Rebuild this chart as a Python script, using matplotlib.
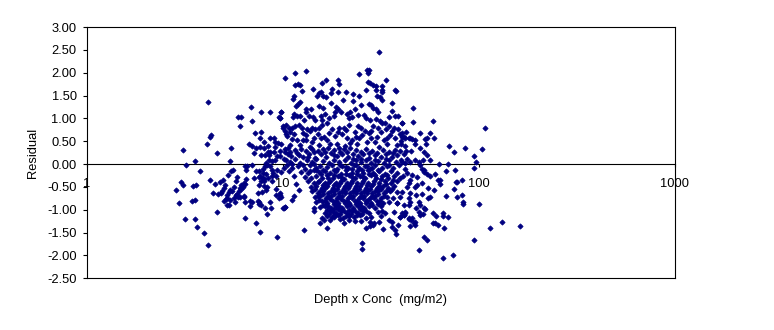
import numpy as np
from matplotlib import pyplot as plt

plt.rcParams['font.family'] = ['Liberation Sans', 'DejaVu Sans']

# points as (log10 of depth x conc, residual)
left_points = [
    (.492, .31), (.508, -.01), (.554, .07), (.579, -.15), (.482, -.39), (.492, -.45), (.457, -.56),
    (.543, -.48), (.559, -.45), (.472, -.85), (.538, -.80), (.554, -.78), (.503, -1.20), (.554, -1.20),
    (.564, -1.37), (.600, -1.51), (.620, -1.77), (.620, 1.35), (.635, .64), (.630, .60), (.615, .45),
    (.666, .25), (.738, .36), (.733, .07), (.630, -.34), (.656, -.43), (.681, -.39), (.697, -.34),
    (.646, -.63), (.671, -.65), (.687, -.63), (.692, -.60), (.707, -.45), (.702, -.52), (.666, -1.05),
    (.722, -.23), (.738, -.16), (.748, -.14), (.767, -.28), (.763, -.36), (.717, -.67), (.717, -.74),
    (.733, -.56), (.743, -.60), (.727, -.61), (.702, -.80), (.712, -.76), (.717, -.89), (.727, -.89),
    (.733, -.78), (.750, -.75), (.763, -.67), (.753, -.50), (.758, -.84), (.773, -.71), (.784, -.72),
    (.801, -.72), (.804, -.69), (.780, -.53), (.790, -.45), (.801, -.42), (.814, -.33), (.775, -.60),
    (.767, -.65), (.789, -.55), (.796, -.50), (.809, -.43), (.809, -.83), (.835, -.80), (.845, -.83),
    (.835, -.91), (.809, -1.18), (.865, -1.29), (.886, -1.48), (.973, -1.59),
]
mid_left_points = [
    (.876, -.80), (.881, -.87), (.891, -.89), (.877, -.84), (.911, -.96), (.942, -.96), (.937, -.83),
    (.922, -1.09), (1.003, -.97), (1.014, -.94), (.983, -.75), (.993, -.72), (.988, -.64), (.968, -.67),
    (.968, -.55), (.876, -.63), (.896, -.61), (.917, -.56), (.881, -.45), (.906, -.49), (.920, -.51),
    (.855, -.31), (.877, -.29), (.886, -.26), (.899, -.31), (.906, -.38), (.865, -.16), (.877, -.15),
    (.899, -.11), (.908, -.05), (.920, -.01), (.937, -.05), (.809, -.05), (.818, -.04), (.814, -.12),
    (.845, -.01), (.945, -.12), (.945, -.27), (.945, -.38), (.971, -.12), (.968, -.26), (1.005, -.09),
    (.830, .45), (.845, .40), (.865, .36), (.886, .38), (.906, .36), (.927, .40), (.855, .25), (.891, .20),
    (.911, .20), (.927, .27), (.932, .20), (.957, .27), (.860, .67), (.891, .71), (.886, .58), (.906, .49),
    (.937, .58), (.957, .56), (.962, .49), (.978, .47), (.962, .38), (.993, .44), (.988, .29), (1.014, .27),
    (.988, .18), (1.009, .12), (.913, .03), (.930, .08), (.945, .06), (.971, .17), (.962, .10), (.937, .27),
    (.900, -.20), (.915, -.22), (.925, -.30), (.905, -.33), (.890, -.36), (.950, -.20), (.990, -.18),
    (.840, 1.26), (.937, 1.15), (.993, 1.15), (.891, 1.13), (.773, 1.04), (.789, 1.04), (.983, 1.04),
    (.988, 1.01), (.845, .95), (.784, .84), (1.000, .84), (1.004, .78), (1.010, .72), (1.015, .66),
]
top_points = [
    (1.494, 2.46), (1.431, 2.06), (1.441, 2.06), (1.434, 1.995), (1.392, 1.97), (1.530, 1.84), (1.014, 1.89),
    (1.065, 1.995), (1.121, 2.04), (1.223, 1.84), (1.203, 1.78), (1.284, 1.84), (1.289, 1.75), (1.065, 1.73),
    (1.077, 1.75), (1.087, 1.73), (1.100, 1.60), (1.157, 1.64), (1.254, 1.64), (1.249, 1.56), (1.184, 1.56),
    (1.198, 1.57), (1.177, 1.49), (1.206, 1.48), (1.223, 1.47), (1.284, 1.58), (1.325, 1.58), (1.361, 1.53),
    (1.392, 1.49), (1.428, 1.62), (1.434, 1.80), (1.448, 1.77), (1.462, 1.73), (1.479, 1.70), (1.474, 1.62),
    (1.509, 1.70), (1.509, 1.62), (1.509, 1.57), (1.571, 1.62), (1.581, 1.60), (1.482, 1.49), (1.496, 1.46),
    (1.509, 1.40), (1.560, 1.34), (1.060, 1.48), (1.053, 1.43), (1.087, 1.35), (1.077, 1.32), (1.070, 1.27),
    (1.249, 1.34), (1.310, 1.40), (1.361, 1.38), (1.402, 1.29), (1.371, 1.21), (1.187, 1.27), (1.208, 1.23),
    (1.121, 1.21), (1.121, 1.15), (1.146, 1.21), (1.274, 1.24), (1.284, 1.20), (1.300, 1.14), (1.439, 1.31),
    (1.451, 1.29), (1.462, 1.22), (1.474, 1.20), (1.489, 1.15), (1.560, 1.17), (1.571, 1.05), (1.591, 1.05),
    (1.545, 1.03), (1.611, .90), (.993, 1.15), (.988, 1.01), (1.056, 1.10), (1.053, 1.04),
    (1.073, 1.05), (1.090, 1.05), (1.111, .96), (1.133, 1.05), (1.153, 1.02), (1.167, .96), (1.198, 1.05),
    (1.201, .96), (1.218, 1.10), (1.235, 1.00), (1.261, 1.05), (1.266, 1.13), (1.329, 1.10), (1.346, 1.15),
    (1.337, 1.00), (1.354, 1.04), (1.383, 1.07), (1.414, 1.07), (1.428, 1.00), (1.445, .96), (1.474, .98),
    (1.496, .95), (1.520, .89),
    (1.019, .85), (1.031, .78), (1.048, .80), (1.065, .83), (1.082, .85), (1.099, .80), (1.124, .76),
    (1.150, .80), (1.167, .76), (1.184, .80), (1.201, .85), (1.226, .89), (1.252, .76), (1.286, .80),
    (1.312, .80), (1.337, .85), (1.383, .83), (1.400, .80), (1.451, .73), (1.485, .80), (1.508, .89),
    (1.542, .83), (1.567, .78), (1.588, .76),
    (1.022, .61), (1.048, .55), (1.073, .52), (1.121, .64), (1.121, .52), (1.158, .56), (1.209, .60),
    (1.235, .67), (1.226, .52), (1.244, .45), (1.303, .66), (1.329, .56), (1.354, .52), (1.405, .64),
    (1.439, .67), (1.482, .60), (1.516, .52), (1.550, .64), (1.576, .56), (1.610, .60), (1.644, .56),
    (1.039, .42), (1.090, .42), (1.141, .38), (1.184, .42), (1.278, .45), (1.320, .39), (1.380, .45),
    (1.431, .49), (1.491, .38), (1.533, .45), (1.584, .42), (1.627, .39),
    (1.036, .70), (1.058, .66), (1.105, .69), (1.140, .72), (1.178, .66), (1.195, .58), (1.265, .62),
    (1.285, .70), (1.322, .74), (1.368, .70), (1.392, .58), (1.418, .72), (1.462, .84), (1.502, .70),
    (1.528, .76), (1.560, .72), (1.598, .66), (1.630, .70), (1.104, .52), (1.148, .48), (1.342, .46),
    (1.372, .60), (1.452, .58), (1.472, .48), (1.534, .58), (1.604, .50),
]
core_upper_points = [
    (1.010, .33), (1.028, .36), (1.062, .30), (1.095, .33), (1.118, .29), (1.152, .34), (1.178, .28),
    (1.205, .32), (1.232, .35), (1.262, .30), (1.291, .27), (1.315, .33), (1.345, .36), (1.372, .30),
    (1.398, .26), (1.425, .33), (1.458, .29), (1.482, .25), (1.513, .31), (1.545, .27), (1.571, .31),
    (1.598, .28), (1.025, .22), (1.045, .18), (1.075, .24), (1.102, .16), (1.135, .22), (1.165, .14),
    (1.195, .21), (1.222, .15), (1.248, .24), (1.275, .17), (1.302, .22), (1.332, .15), (1.360, .23),
    (1.385, .17), (1.412, .21), (1.440, .13), (1.470, .19), (1.500, .15), (1.530, .22), (1.558, .16),
    (1.585, .20), (1.018, .10), (1.040, .05), (1.065, .12), (1.090, .03), (1.122, .09), (1.148, .04),
    (1.172, .11), (1.208, .06), (1.238, .02), (1.262, .10), (1.288, .05), (1.318, .09), (1.348, .03),
    (1.372, .08), (1.402, .04), (1.428, .10), (1.452, .03), (1.488, .07), (1.518, .02), (1.545, .09),
    (1.578, .04), (1.605, .08), (1.625, .02),
]
core_zero_points = [
    (1.022, -.02), (1.048, -.08), (1.078, -.04), (1.115, -.10), (1.140, -.03), (1.168, -.09), (1.192, -.05),
    (1.225, -.07), (1.250, -.02), (1.278, -.10), (1.305, -.04), (1.335, -.08), (1.362, -.03), (1.390, -.09),
    (1.418, -.05), (1.445, -.10), (1.472, -.02), (1.505, -.08), (1.532, -.04), (1.565, -.09), (1.592, -.03),
    (1.035, -.15), (1.092, -.17), (1.128, -.20), (1.158, -.14), (1.185, -.18), (1.215, -.15), (1.242, -.20),
    (1.270, -.16), (1.298, -.21), (1.325, -.14), (1.352, -.19), (1.380, -.15), (1.408, -.20), (1.435, -.14),
    (1.462, -.19), (1.492, -.16), (1.522, -.21), (1.552, -.15), (1.582, -.19), (1.060, -.26), (1.145, -.30),
    (1.172, -.26), (1.200, -.31), (1.228, -.25), (1.255, -.30), (1.284, -.26), (1.312, -.32), (1.340, -.25),
    (1.368, -.30), (1.395, -.26), (1.422, -.31), (1.450, -.25), (1.478, -.30), (1.508, -.26), (1.540, -.31),
    (1.570, -.27), (1.600, -.31), (1.130, -.38), (1.158, -.41), (1.186, -.36), (1.214, -.42), (1.242, -.37),
    (1.270, -.41), (1.298, -.36), (1.326, -.42), (1.354, -.37), (1.382, -.41), (1.410, -.36), (1.438, -.42),
    (1.466, -.37), (1.494, -.41), (1.522, -.36), (1.552, -.42), (1.585, -.38),
]
core_lower_points = [
    (1.070, -.44), (1.085, -.57), (1.056, -.70), (1.049, -.79), (.988, -.68), (1.008, -.97), (1.014, -.94),
    (1.145, -.50), (1.172, -.47), (1.200, -.52), (1.228, -.48), (1.256, -.53), (1.284, -.47), (1.312, -.52),
    (1.340, -.48), (1.368, -.53), (1.396, -.47), (1.424, -.52), (1.452, -.48), (1.480, -.53), (1.510, -.47),
    (1.540, -.52), (1.570, -.48), (1.150, -.60), (1.178, -.63), (1.206, -.58), (1.234, -.64), (1.262, -.59),
    (1.290, -.63), (1.318, -.58), (1.346, -.64), (1.374, -.59), (1.402, -.63), (1.430, -.58), (1.458, -.64),
    (1.486, -.59), (1.516, -.63), (1.546, -.60), (1.585, -.62), (1.165, -.72), (1.192, -.69), (1.220, -.74),
    (1.248, -.70), (1.276, -.75), (1.304, -.69), (1.332, -.74), (1.360, -.70), (1.388, -.75), (1.416, -.69),
    (1.444, -.74), (1.472, -.70), (1.502, -.75), (1.532, -.71), (1.565, -.74), (1.600, -.72), (1.172, -.84),
    (1.200, -.80), (1.228, -.85), (1.256, -.81), (1.284, -.86), (1.312, -.80), (1.340, -.85), (1.368, -.81),
    (1.396, -.86), (1.424, -.80), (1.452, -.85), (1.480, -.81), (1.512, -.86), (1.545, -.82), (1.584, -.86),
    (1.190, -.95), (1.218, -.91), (1.246, -.96), (1.274, -.92), (1.302, -.97), (1.330, -.91), (1.358, -.96),
    (1.386, -.92), (1.414, -.97), (1.442, -.91), (1.470, -.96), (1.500, -.92), (1.158, -.97), (1.158, -1.03),
    (1.215, -1.06), (1.243, -1.02), (1.271, -1.07), (1.299, -1.03), (1.327, -1.08), (1.355, -1.02),
    (1.383, -1.07), (1.411, -1.03), (1.439, -1.08), (1.488, -1.05), (1.508, -1.02), (1.525, -1.07),
    (1.225, -1.13), (1.253, -1.16), (1.281, -1.12), (1.309, -1.17), (1.337, -1.13), (1.365, -1.16),
    (1.393, -1.12), (1.452, -1.15), (1.500, -1.13),
]
core_dense_points = [
    (1.038, .27), (1.082, .19), (1.128, .15), (1.162, .26), (1.218, .26), (1.262, .19), (1.288, .35),
    (1.328, .26), (1.358, .12), (1.398, .12), (1.442, .24), (1.472, .09), (1.528, .12), (1.562, .24),
    (1.048, .00), (1.104, -.02), (1.162, .01), (1.208, -.12), (1.264, -.14), (1.292, -.03), (1.322, -.06),
    (1.352, -.11), (1.376, -.02), (1.405, -.12), (1.432, -.04), (1.458, -.09), (1.488, -.13), (1.545, -.02),
    (1.112, -.28), (1.142, -.16), (1.172, -.14), (1.198, -.22), (1.232, -.31), (1.262, -.24), (1.296, -.29),
    (1.324, -.21), (1.354, -.28), (1.382, -.22), (1.412, -.29), (1.442, -.22), (1.472, -.25), (1.502, -.33),
    (1.532, -.25), (1.562, -.34), (1.178, -.40), (1.204, -.45), (1.234, -.41), (1.262, -.46), (1.292, -.41),
    (1.318, -.47), (1.348, -.42), (1.376, -.47), (1.404, -.41), (1.432, -.46), (1.462, -.44), (1.490, -.47),
    (1.528, -.44), (1.164, -.55), (1.192, -.58), (1.218, -.53), (1.246, -.59), (1.276, -.54), (1.304, -.58),
    (1.332, -.53), (1.360, -.59), (1.388, -.54), (1.416, -.58), (1.444, -.54), (1.472, -.59), (1.500, -.54),
    (1.530, -.58), (1.560, -.55), (1.178, -.69), (1.206, -.66), (1.234, -.70), (1.262, -.65), (1.290, -.70),
    (1.318, -.64), (1.346, -.69), (1.374, -.64), (1.402, -.70), (1.430, -.64), (1.458, -.69), (1.488, -.65),
    (1.518, -.70), (1.186, -.78), (1.214, -.80), (1.242, -.76), (1.270, -.81), (1.298, -.76), (1.326, -.80),
    (1.354, -.75), (1.382, -.80), (1.410, -.75), (1.438, -.79), (1.466, -.75), (1.496, -.80), (1.204, -.89),
    (1.232, -.92), (1.260, -.87), (1.288, -.91), (1.316, -.86), (1.344, -.90), (1.372, -.87), (1.400, -.91),
    (1.428, -.86), (1.456, -.90), (1.486, -.88), (1.228, -1.00), (1.256, -1.04), (1.284, -.98), (1.312, -1.02),
    (1.340, -1.00), (1.368, -1.03), (1.396, -.98), (1.426, -1.02), (1.238, -1.09), (1.266, -1.12),
    (1.294, -1.09), (1.322, -1.13), (1.350, -1.09), (1.378, -1.12), (1.406, -1.10), (1.262, -.99),
]
bottom_points = [
    (1.111, -1.45), (1.228, -1.40), (1.407, -1.73), (1.407, -1.86), (1.428, -1.40), (1.514, -1.43),
    (1.581, -1.53), (1.576, -1.45), (1.559, -1.37), (1.542, -1.23), (1.559, -1.26), (1.589, -1.34),
    (1.448, -1.26), (1.468, -1.30), (1.448, -1.36), (1.462, -1.34), (1.494, -1.26), (1.192, -1.29),
    (1.201, -1.19), (1.209, -1.23), (1.240, -1.23), (1.261, -1.15), (1.291, -1.21), (1.312, -1.29),
    (1.337, -1.23), (1.371, -1.24), (1.402, -1.24), (1.428, -1.17), (1.601, -1.15), (1.610, -1.08),
    (1.627, -1.05), (1.618, -1.12), (1.567, -1.05), (1.584, -.86), (1.644, -.90), (1.644, -1.19),
]
right_points = [
    (1.667, 1.23), (1.667, .92), (1.611, .90), (1.765, .94), (2.035, .79), (1.703, .68), (1.754, .68),
    (1.729, .55), (1.739, .58), (1.770, .57), (1.734, .44), (1.851, .40), (1.877, .26), (1.933, .35),
    (2.015, .33), (1.979, .17), (1.989, .04), (1.979, -.09), (1.703, .35), (1.724, .26), (1.739, .20),
    (1.754, .09), (1.657, .28), (1.632, .28), (1.621, .22), (1.678, .44), (1.606, .44), (1.800, .00),
    (1.846, .00), (1.836, -.15), (1.882, -.13), (1.780, -.22), (1.754, -.26), (1.739, -.22), (1.724, -.13),
    (1.795, -.35), (1.805, -.35), (1.805, -.44), (1.775, -.57), (1.744, -.53), (1.887, -.40), (1.892, -.39),
    (1.916, -.35), (1.877, -.55), (1.836, -.70), (1.892, -.72), (1.913, -.68), (1.918, -.83), (1.918, -.88),
    (2.000, -.88), (1.744, -.75), (1.754, -.73), (1.713, -.66), (1.683, -.68), (1.652, -.64), (1.765, -1.07),
    (1.785, -1.14), (1.816, -1.14), (1.821, -1.07), (1.846, -1.16), (1.765, -1.29), (1.780, -1.29),
    (1.795, -1.34), (1.826, -1.40), (2.056, -1.40), (2.122, -1.27), (2.214, -1.36), (1.979, -1.67),
    (1.724, -1.59), (1.739, -1.67), (1.698, -1.89), (1.821, -2.06), (1.872, -1.99), (1.657, -1.23),
    (1.673, -1.30), (1.678, -1.34), (1.652, -1.36), (1.678, -1.26), (1.618, -1.12), (1.627, -1.08),
    (1.601, -1.16), (1.661, -1.19), (1.647, -1.21), (1.683, -.97), (1.695, -1.05), (1.703, -1.12),
    (1.720, -.97), (1.729, -.99), (1.717, -1.10), (1.695, -.83), (1.703, -.90), (1.652, -.83), (1.644, -.75),
    (1.618, -.90), (1.635, -.50), (1.686, -.46), (1.712, -.42), (1.678, -.50), (1.644, -.42), (1.610, -.61),
    (1.627, -.10), (1.635, -.20), (1.661, -.24), (1.686, -.29), (1.652, -.34), (1.615, -.26), (1.703, -.02),
    (1.712, -.10), (1.720, -.17), (1.695, .05), (1.678, .09), (1.652, .05), (1.635, .12), (1.610, .05),
    (1.717, .10), (1.618, .60), (1.610, .67), (1.627, .56), (1.652, .56), (1.678, .53), (1.661, .54),
]

y_ticks = [3.0, 2.5, 2.0, 1.5, 1.0, 0.5, 0.0, -0.5, -1.0, -1.5, -2.0, -2.5]
x_ticks = [1, 10, 100, 1000]
x_tick_labels = ['1', '10', '100', '1000']

all_points = np.array(left_points + mid_left_points + top_points + core_upper_points + core_zero_points
                      + core_lower_points + core_dense_points + bottom_points + right_points)
depth_conc = 10 ** all_points[:, 0]
residual = all_points[:, 1]

W, H = 774, 330
L, R, T, B = 86.7, 674.5, 27.0, 278.3

fig = plt.figure(figsize=(W / 100, H / 100), dpi=100)
ax = fig.add_axes([L / W, 1 - B / H, (R - L) / W, (B - T) / H])

ax.plot(depth_conc, residual, linestyle='none', marker='D', markersize=2.7,
        markerfacecolor='#000080', markeredgecolor='#000080', markeredgewidth=0.5, zorder=2)

ax.set_xscale('log')
ax.set_xlim(1, 1000)
ax.set_ylim(-2.5, 3)
ax.set_xticks(x_ticks)
ax.set_xticklabels(x_tick_labels)
ax.minorticks_off()
ax.xaxis.set_tick_params(which='minor', length=0)
ax.set_yticks(y_ticks)
ax.set_yticklabels(['%.2f' % v for v in y_ticks])

# x axis crosses at 0 and sits under the points, frame stays around the plot
ax.spines['bottom'].set_position(('data', 0))
ax.spines['bottom'].set_zorder(1)
ax.plot([0, 1], [0, 0], transform=ax.transAxes, color='black', lw=0.8, clip_on=False, zorder=3)

for s in ax.spines.values():
    s.set_linewidth(0.8)

ax.tick_params(axis='y', length=3.2, width=0.8, pad=4, labelsize=9.3)
ax.tick_params(axis='x', length=2.2, width=0.8, pad=7.5, labelsize=9.3)

fig.text(381 / W, 1 - 300.5 / H, 'Depth x Conc  (mg/m2)', ha='center', va='center', fontsize=9.3)
fig.text(33 / W, 1 - 153 / H, 'Residual', ha='center', va='center', rotation=90, fontsize=9.3)

plt.savefig('out.png', dpi=100)
